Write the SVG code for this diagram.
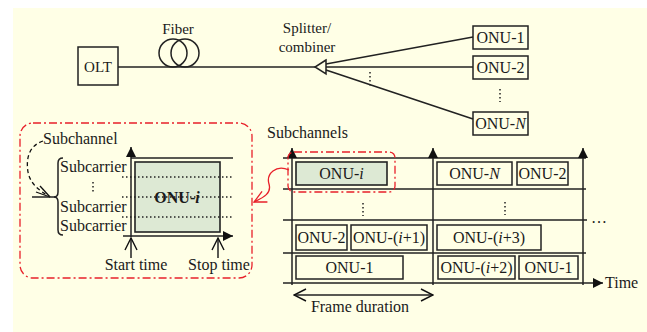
<svg xmlns="http://www.w3.org/2000/svg" width="647" height="332" viewBox="0 0 647 332">
<defs>
<style>
text{font-family:"Liberation Serif","Times New Roman",serif;font-size:16px;fill:#1a1a1a}
.t15{font-size:15px}
.mid{text-anchor:middle}
.ln{stroke:#222;stroke-width:1.5;fill:none}
.bx{stroke:#222;stroke-width:1.5;fill:none}
.gbx{stroke:#222;stroke-width:1.6;fill:#dde9d4}
.dot{stroke:#222;stroke-width:1.5;stroke-dasharray:1.5,2.5;fill:none}
.red{stroke:#e8202a;stroke-width:1.3;fill:none;stroke-dasharray:8,3,2,3}
.redc{stroke:#e8202a;stroke-width:1.3;fill:none}
</style>
<marker id="fa" viewBox="0 0 10 10" refX="10" refY="5" markerWidth="10" markerHeight="10" markerUnits="userSpaceOnUse" orient="auto"><path d="M0,0L10,5L0,10Z" fill="#111"/></marker>
<marker id="oa" viewBox="0 0 14 14" refX="13" refY="7" markerWidth="14" markerHeight="14" markerUnits="userSpaceOnUse" orient="auto"><path d="M1,1L13,7L1,13" fill="none" stroke="#111" stroke-width="1.4"/></marker>
<marker id="ra" viewBox="0 0 14 14" refX="13" refY="7" markerWidth="14" markerHeight="14" markerUnits="userSpaceOnUse" orient="auto"><path d="M1,1L13,7L1,13" fill="none" stroke="#e8202a" stroke-width="1.3"/></marker>
</defs>
<rect x="13" y="8" width="634" height="324" fill="#ffffe6"/>

<g id="connectors">
<line class="ln" x1="118" y1="67" x2="315" y2="67"/>
<ellipse class="ln" cx="173" cy="53" rx="14" ry="14"/>
<ellipse class="ln" cx="185" cy="53" rx="14" ry="14"/>
<line class="ln" x1="326" y1="64" x2="473" y2="37"/>
<line class="ln" x1="326" y1="67" x2="473" y2="67"/>
<line class="ln" x1="326" y1="70" x2="473" y2="119"/>
<line class="dot" x1="370" y1="72" x2="370" y2="86"/>
<line class="dot" x1="500" y1="89" x2="500" y2="102"/>
<path class="redc" d="M289,170 C276,164 266,174 269,184 C272,194 262,198 254,202" marker-end="url(#ra)"/>
</g>

<g id="olt"><rect class="bx" x="78" y="47" width="40" height="38"/><text class="t15 mid" x="98" y="72">OLT</text></g>
<g id="fiber-label"><text class="t15 mid" x="178" y="34">Fiber</text></g>
<g id="splitter">
<path class="ln" d="M326,60 L315,67 L326,74 Z"/>
<text class="t15 mid" x="307" y="33">Splitter/</text>
<text class="t15 mid" x="307" y="52">combiner</text>
</g>
<g id="onu-1"><rect class="bx" x="473" y="26" width="55" height="23"/><text class="mid" x="500.5" y="43">ONU-1</text></g>
<g id="onu-2"><rect class="bx" x="473" y="56" width="55" height="23"/><text class="mid" x="500.5" y="73">ONU-2</text></g>
<g id="onu-n"><rect class="bx" x="473" y="112" width="55" height="23"/><text class="mid" x="500.5" y="129">ONU-<tspan font-style="italic">N</tspan></text></g>

<g id="inset">
<rect class="red" x="20" y="123" width="232" height="155" rx="13"/>
<text x="43" y="144">Subchannel</text>
<path d="M43,141 C28,146 26,160 28,172 C30,183 38,190 50,197" fill="none" stroke="#111" stroke-width="1.3" stroke-dasharray="4,3"/>
<path d="M40,186 L50,197" fill="none" stroke="#111" stroke-width="1.3"/>
<path d="M36,192 L50,197" fill="none" stroke="#111" stroke-width="1.3"/>
<line class="ln" x1="32" y1="197" x2="55" y2="197"/>
<path class="ln" d="M63,158 Q58,158 58,163 L58,192 Q58,197 54,197 Q58,197 58,202 L58,230 Q58,235 63,235"/>
<text x="60" y="172">Subcarrier</text>
<line class="dot" x1="93" y1="182" x2="93" y2="194"/>
<text x="60" y="212">Subcarrier</text>
<text x="60" y="231">Subcarrier</text>
<rect class="gbx" x="135" y="162" width="85" height="70"/>
<line class="ln" x1="131" y1="158" x2="233" y2="158"/>
<line class="dot" x1="122" y1="177" x2="232" y2="177"/>
<line class="dot" x1="122" y1="197" x2="232" y2="197"/>
<line class="dot" x1="122" y1="217" x2="232" y2="217"/>
<line class="ln" x1="131" y1="237" x2="131" y2="147" marker-end="url(#fa)"/>
<line class="ln" x1="123" y1="236" x2="233" y2="236" marker-end="url(#fa)"/>
<text x="177" y="203" class="mid" font-weight="bold">ONU-<tspan font-style="italic">i</tspan></text>
<line class="ln" x1="131" y1="258" x2="131" y2="238" marker-end="url(#oa)"/>
<line class="ln" x1="218" y1="258" x2="218" y2="238" marker-end="url(#oa)"/>
<text class="mid" x="136" y="270">Start time</text>
<text class="mid" x="219" y="270">Stop time</text>
</g>

<g id="chart">
<text x="267" y="138">Subchannels</text>
<line class="ln" x1="283" y1="158" x2="586" y2="158"/>
<line class="ln" x1="283" y1="189" x2="586" y2="189"/>
<line class="ln" x1="283" y1="220" x2="587" y2="220"/>
<line class="ln" x1="283" y1="253" x2="586" y2="253"/>
<line class="ln" x1="283" y1="283" x2="603" y2="283" marker-end="url(#fa)"/>
<line class="ln" x1="292" y1="285" x2="292" y2="148" marker-end="url(#fa)"/>
<line class="ln" x1="433" y1="285" x2="433" y2="148" marker-end="url(#fa)"/>
<line class="ln" x1="583" y1="285" x2="583" y2="148" marker-end="url(#fa)"/>
<text x="605" y="288">Time</text>
<line class="dot" x1="363" y1="203" x2="363" y2="216"/>
<line class="dot" x1="505" y1="202" x2="505" y2="215"/>
<text x="591" y="223">…</text>
<line class="ln" x1="363" y1="295" x2="294" y2="295" marker-end="url(#oa)"/>
<line class="ln" x1="363" y1="295" x2="433" y2="295" marker-end="url(#oa)"/>
<text class="mid" x="360" y="312">Frame duration</text>
</g>

<g id="slot-onu-i"><rect class="gbx" x="296" y="162" width="91" height="23"/><text class="mid" x="341.5" y="179">ONU-<tspan font-style="italic">i</tspan></text><rect class="red" x="288" y="152" width="107" height="40" rx="6"/></g>
<g id="slot-onu-n"><rect class="bx" x="437" y="162" width="75" height="23"/><text class="mid" x="474.5" y="179">ONU-<tspan font-style="italic">N</tspan></text></g>
<g id="slot-onu-2a"><rect class="bx" x="517" y="162" width="51" height="23"/><text class="mid" x="542.5" y="179">ONU-2</text></g>
<g id="slot-onu-2b"><rect class="bx" x="296" y="225" width="51" height="25"/><text class="mid" x="321.5" y="243">ONU-2</text></g>
<g id="slot-onu-i1"><rect class="bx" x="351" y="225" width="76" height="25"/><text class="mid" x="389" y="243">ONU-(<tspan font-style="italic">i</tspan>+1)</text></g>
<g id="slot-onu-i3"><rect class="bx" x="437" y="225" width="104" height="25"/><text class="mid" x="489" y="243">ONU-(<tspan font-style="italic">i</tspan>+3)</text></g>
<g id="slot-onu-1a"><rect class="bx" x="296" y="256" width="107" height="23"/><text class="mid" x="349.5" y="273">ONU-1</text></g>
<g id="slot-onu-i2"><rect class="bx" x="438" y="256" width="77" height="23"/><text class="mid" x="476.5" y="273">ONU-(<tspan font-style="italic">i</tspan>+2)</text></g>
<g id="slot-onu-1b"><rect class="bx" x="519" y="256" width="59" height="23"/><text class="mid" x="548.5" y="273">ONU-1</text></g>
</svg>
